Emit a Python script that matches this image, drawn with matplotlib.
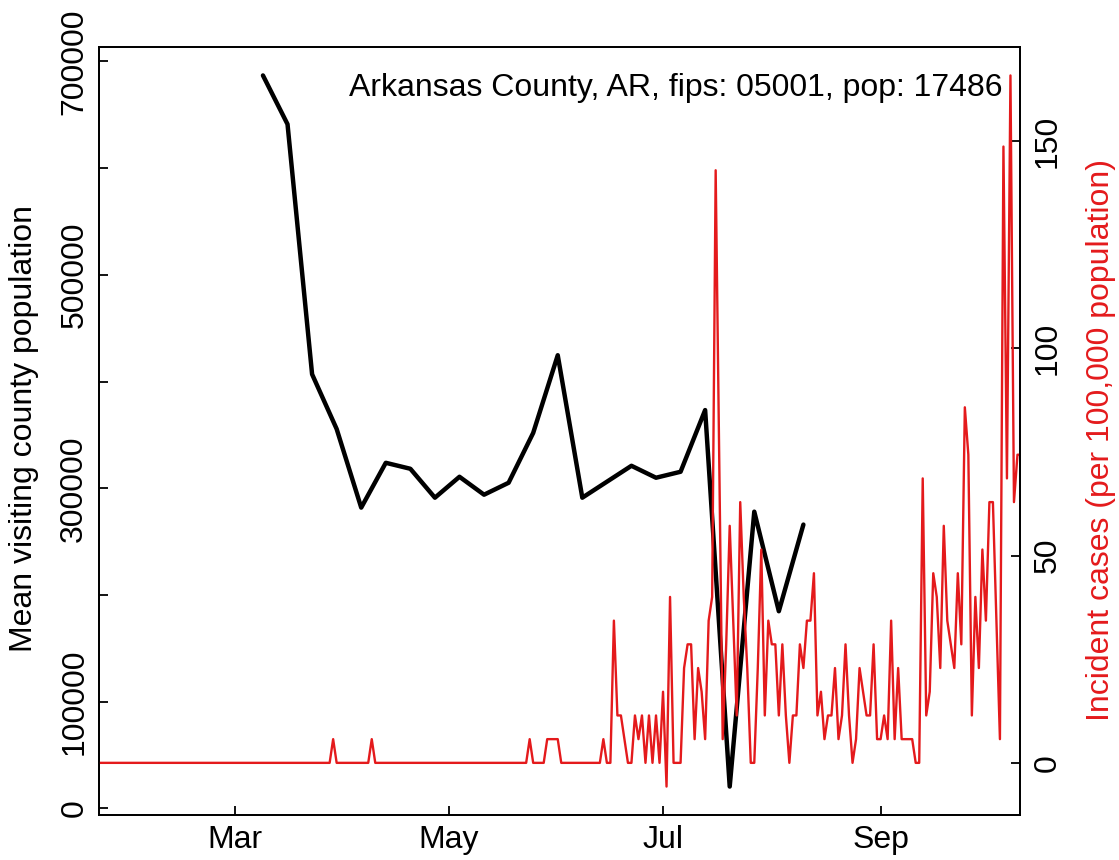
import matplotlib
matplotlib.use("Agg")
import matplotlib.pyplot as plt
import matplotlib.dates as mdates
import numpy as np
from datetime import date, timedelta

plt.rcParams['font.family'] = ['Liberation Sans', 'DejaVu Sans']

title = "Arkansas County, AR, fips: 05001, pop: 17486"
population = 17486
red = "#E41A1C"

# weekly mean visiting county population
visit_dates = [date(2020, 3, 9), date(2020, 3, 16), date(2020, 3, 23), date(2020, 3, 30),
               date(2020, 4, 6), date(2020, 4, 13), date(2020, 4, 20), date(2020, 4, 27),
               date(2020, 5, 4), date(2020, 5, 11), date(2020, 5, 18), date(2020, 5, 25),
               date(2020, 6, 1), date(2020, 6, 8), date(2020, 6, 22), date(2020, 6, 29),
               date(2020, 7, 6), date(2020, 7, 13), date(2020, 7, 20), date(2020, 7, 27),
               date(2020, 8, 3), date(2020, 8, 10)]
visit_pop = [686900, 641200, 406900, 355600, 281900, 323900, 318300, 291200,
             310800, 294000, 305200, 351900, 424700, 291200, 321100, 309900,
             315500, 373300, 20500, 278100, 184800, 266000]

# daily new cases, first day 2020-01-21
case_start = date(2020, 1, 21)
daily_cases = [
    0, 0, 0, 0, 0, 0, 0, 0, 0, 0,
    0, 0, 0, 0, 0, 0, 0, 0, 0, 0,
    0, 0, 0, 0, 0, 0, 0, 0, 0, 0,
    0, 0, 0, 0, 0, 0, 0, 0, 0, 0,
    0, 0, 0, 0, 0, 0, 0, 0, 0, 0,
    0, 0, 0, 0, 0, 0, 0, 0, 0, 0,
    0, 0, 0, 0, 0, 0, 0, 0, 1, 0,
    0, 0, 0, 0, 0, 0, 0, 0, 0, 1,
    0, 0, 0, 0, 0, 0, 0, 0, 0, 0,
    0, 0, 0, 0, 0, 0, 0, 0, 0, 0,
    0, 0, 0, 0, 0, 0, 0, 0, 0, 0,
    0, 0, 0, 0, 0, 0, 0, 0, 0, 0,
    0, 0, 0, 0, 1, 0, 0, 0, 0, 1,
    1, 1, 1, 0, 0, 0, 0, 0, 0, 0,
    0, 0, 0, 0, 0, 1, 0, 0, 6, 2,
    2, 1, 0, 0, 2, 1, 2, 0, 2, 0,
    2, 0, 3, -1, 7, 0, 0, 0, 4, 5,
    5, 1, 4, 3, 1, 6, 7, 25, 13, 1,
    5, 10, 6, 2, 11, 7, 4, 0, 0, 4,
    9, 2, 6, 5, 5, 2, 5, 2, 0, 2,
    2, 5, 4, 6, 6, 8, 2, 3, 1, 2,
    2, 4, 1, 2, 5, 2, 0, 1, 4, 3,
    2, 2, 5, 1, 1, 2, 1, 6, 1, 4,
    1, 1, 1, 1, 0, 0, 12, 2, 3, 8,
    7, 4, 10, 6, 5, 4, 8, 5, 15, 13,
    2, 7, 4, 9, 6, 11, 11, 6, 1, 26,
    12, 29, 11, 13, 13,
]

month_ticks = [date(2020, 3, 1), date(2020, 5, 1), date(2020, 7, 1), date(2020, 9, 1)]
month_labels = ["Mar", "May", "Jul", "Sep"]
left_ticks = [0, 100000, 200000, 300000, 400000, 500000, 600000, 700000]
left_labels = ["0", "100000", "", "300000", "", "500000", "", "700000"]
right_ticks = [0, 50, 100, 150]

incidence = np.array(daily_cases) / population * 100000
case_dates = [case_start + timedelta(days=i) for i in range(len(daily_cases))]

W, H = 1119, 860
fig = plt.figure(figsize=(W / 100, H / 100), dpi=100)
ax = fig.add_axes([99 / W, 1 - 815 / H, 921 / W, 768 / H])

ax.plot(visit_dates, visit_pop, color="black", lw=3.2,
        solid_joinstyle="round", solid_capstyle="round")
ax.margins(y=0.04)

ax2 = ax.twinx()
ax2.plot(case_dates, incidence, color=red, lw=1.7, solid_joinstyle="round")
ax2.margins(y=0.04)

x0 = mdates.date2num(date(2020, 2, 1))
x1 = mdates.date2num(date(2020, 10, 1))
pad = 0.04 * (x1 - x0)
ax.set_xlim(x0 - pad, x1 + pad)

ax.set_xticks([mdates.date2num(d) for d in month_ticks])
ax.set_xticklabels(month_labels)
ax.set_yticks(left_ticks)
ax.set_yticklabels(left_labels)
ax2.set_yticks(right_ticks)
ax2.set_yticklabels([str(t) for t in right_ticks])

ax.tick_params(axis="x", direction="in", length=6.3, width=1.3, labelsize=23, pad=7)
ax.tick_params(axis="y", direction="in", length=6.3, width=1.3, labelsize=23, pad=7,
               labelrotation=90)
ax2.tick_params(axis="y", direction="in", length=6.3, width=1.3, labelsize=23, pad=9,
                labelrotation=90)
plt.setp(ax.get_yticklabels(), va="center")
plt.setp(ax2.get_yticklabels(), va="center")

for a in (ax, ax2):
    for s in a.spines.values():
        s.set_linewidth(1.3)

ax.text(0.9815, 0.9466, title, transform=ax.transAxes, ha="right", va="center", fontsize=23)

fig.text(24 / W, 1 - 428 / H, "Mean visiting county population", rotation=90,
         ha="center", va="center", fontsize=23)
fig.text(1101 / W, 1 - 440 / H, "Incident cases (per 100,000 population)", rotation=90,
         ha="center", va="center", fontsize=23, color=red)

fig.savefig("out.png", dpi=100)
